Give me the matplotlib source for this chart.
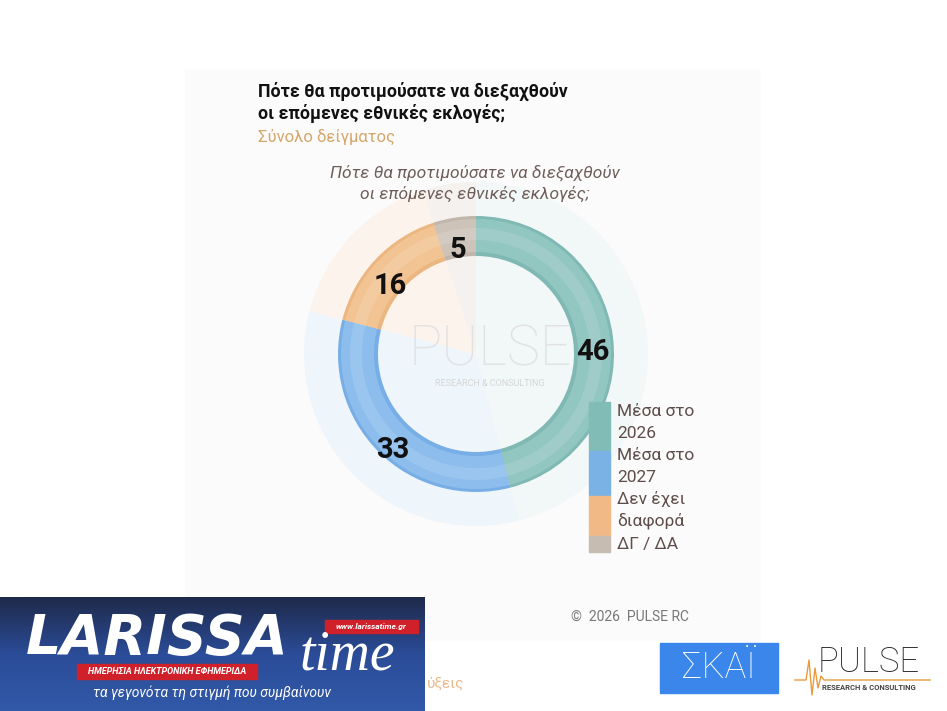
import matplotlib.pyplot as plt
import numpy as np
from matplotlib.colors import LinearSegmentedColormap
from matplotlib.patches import Rectangle

W, H = 947, 711

labels = ["Μέσα στο\n2026", "Μέσα στο\n2027", "Δεν έχει\nδιαφορά", "ΔΓ / ΔΑ"]
values = [46, 33, 16, 5]
colors = ["#92c6c1", "#8cbdec", "#f2c494", "#cdc3b9"]
edge_colors = ["#80b9b4", "#78aee6", "#ecb681", "#c1b6ab"]
legend_colors = ["#82bcb7", "#7ab2e6", "#f0b985", "#c6bcb1"]
halo_colors = ["#f2f7f7", "#eef5fb", "#fcf4ec", "#f4f1ee"]

title = "Πότε θα προτιμούσατε να διεξαχθούν\nοι επόμενες εθνικές εκλογές;"
subtitle = "Σύνολο δείγματος"

plt.rcParams["font.family"] = ["Roboto", "DejaVu Sans"]


def fx(x):
    return x / W


def fy(y):
    return 1 - y / H


fig = plt.figure(figsize=(W / 100, H / 100), dpi=100)
fig.patch.set_facecolor("white")

# full-figure pixel axes for background
bg = fig.add_axes([0, 0, 1, 1])
bg.axis("off")
bg.add_patch(Rectangle((185, 70), 575, 570, color="#fbfbfb", zorder=0))
bg.set_xlim(0, W)
bg.set_ylim(H, 0)

# titles
fig.text(fx(258), fy(82), title, fontsize=12.8, fontweight="bold", color="#111111",
         va="top", ha="left", linespacing=1.2)
fig.text(fx(258), fy(129), subtitle, fontsize=12, color="#d4a66a", va="top", ha="left")
fig.text(fx(475), fy(165), title, fontsize=12.5, style="italic", color="#6e5d58",
         va="top", ha="center", linespacing=1.35)

# donut
cx, cy, R = 476, 354, 176
ax = fig.add_axes([fx(cx - R), fy(cy + R), 2 * R / W, 2 * R / H])

ax.pie(values, colors=halo_colors, radius=172, startangle=90, counterclock=False,
       wedgeprops=dict(linewidth=0))
ax.text(14, 4, "PULSE", fontsize=40, color="#e2e2e2", ha="center", va="center",
        fontweight="light")
ax.text(14, -30, "RESEARCH & CONSULTING", fontsize=6.5, color="#d6d6d6", ha="center",
        va="center")
ax.pie(values, colors=edge_colors, radius=138, startangle=90, counterclock=False,
       wedgeprops=dict(width=40, linewidth=0))
ax.pie(values, colors=colors, radius=135, startangle=90, counterclock=False,
       wedgeprops=dict(width=33, linewidth=0))
ax.pie(values, colors=["white"] * 4, radius=126, startangle=90, counterclock=False,
       wedgeprops=dict(width=12, linewidth=0, alpha=0.12))

cum = np.cumsum([0] + values[:-1])
for v, c0 in zip(values, cum):
    ang = np.deg2rad(90 - (c0 + v / 2) * 3.6)
    ax.text(118 * np.cos(ang), 118 * np.sin(ang) - 13, str(v), fontsize=21,
            fontweight="bold", color="#111111", ha="center", va="center")
ax.set_xlim(-R, R)
ax.set_ylim(-R, R)
ax.set_aspect("equal")
ax.axis("off")

# overlay axes for legend and logos
ov = fig.add_axes([0, 0, 1, 1])
ov.axis("off")

leg_h = [49, 45, 40, 17]
y0 = 402
for col, h in zip(legend_colors, leg_h):
    ov.add_patch(Rectangle((589, y0), 21, h - 1, color=col, zorder=2))
    y0 += h
line_y = [411, 433, 455, 477, 499, 521, 544]
legend_lines = [ln for lab in labels for ln in lab.split("\n")]
for ln, ty in zip(legend_lines, line_y):
    fig.text(fx(617), fy(ty), ln, fontsize=12.5, color="#5e4d4a", va="center",
             ha="left")

fig.text(fx(571), fy(617), "©  2026  PULSE RC", fontsize=10, color="#777777",
         va="center", ha="left")

# Larissa time banner
grad = np.linspace(0, 1, 100).reshape(-1, 1)
cmap = LinearSegmentedColormap.from_list("b", ["#1f2a4a", "#2b4c98", "#3159a8"])
ov.imshow(grad, extent=(0, 425, 711, 597), cmap=cmap, aspect="auto", zorder=3)
ov.add_patch(Rectangle((77, 664), 180, 15, color="#d0202a", zorder=4))
ov.add_patch(Rectangle((325, 620), 93, 13, color="#d0202a", zorder=4))
ov.add_patch(Rectangle((660, 643), 118, 50, color="#3b86ea", zorder=4))
px = [795, 806, 809, 812, 815, 818, 821, 824, 930]
py = [680, 680, 660, 695, 668, 688, 676, 680, 680]
ov.plot(px, py, color="#e89a3c", lw=1, zorder=5)
ov.set_xlim(0, W)
ov.set_ylim(H, 0)

fig.text(fx(26), fy(639), "LARISSA", fontsize=40, fontweight="black", style="italic",
         color="white", va="center", ha="left", fontfamily="DejaVu Sans")
fig.text(fx(300), fy(655), "time", fontsize=40, style="italic", color="white",
         va="center", ha="left", fontfamily="Liberation Serif")
fig.text(fx(167), fy(671.5), "ΗΜΕΡΗΣΙΑ ΗΛΕΚΤΡΟΝΙΚΗ ΕΦΗΜΕΡΙΔΑ", fontsize=6.5,
         fontweight="bold", style="italic", color="white", va="center", ha="center")
fig.text(fx(371), fy(626), "www.larissatime.gr", fontsize=6, fontweight="bold",
         style="italic", color="white", va="center", ha="center")
fig.text(fx(212), fy(693), "τα γεγονότα τη στιγμή που συμβαίνουν", fontsize=10,
         style="italic", color="white", va="center", ha="center")
fig.text(fx(427), fy(684), "ύξεις", fontsize=11, color="#eab98a", va="center", ha="left")

fig.text(fx(719), fy(668), "ΣΚΑΪ", fontsize=26, color="white", va="center",
         ha="center", fontweight="light")
fig.text(fx(818), fy(662), "PULSE", fontsize=25, color="#2a2a2a", va="center",
         ha="left", fontweight="light")
fig.text(fx(822), fy(688), "RESEARCH & CONSULTING", fontsize=5.5, color="#444444",
         va="center", ha="left", fontweight="bold")

fig.savefig("out.png", dpi=100)
